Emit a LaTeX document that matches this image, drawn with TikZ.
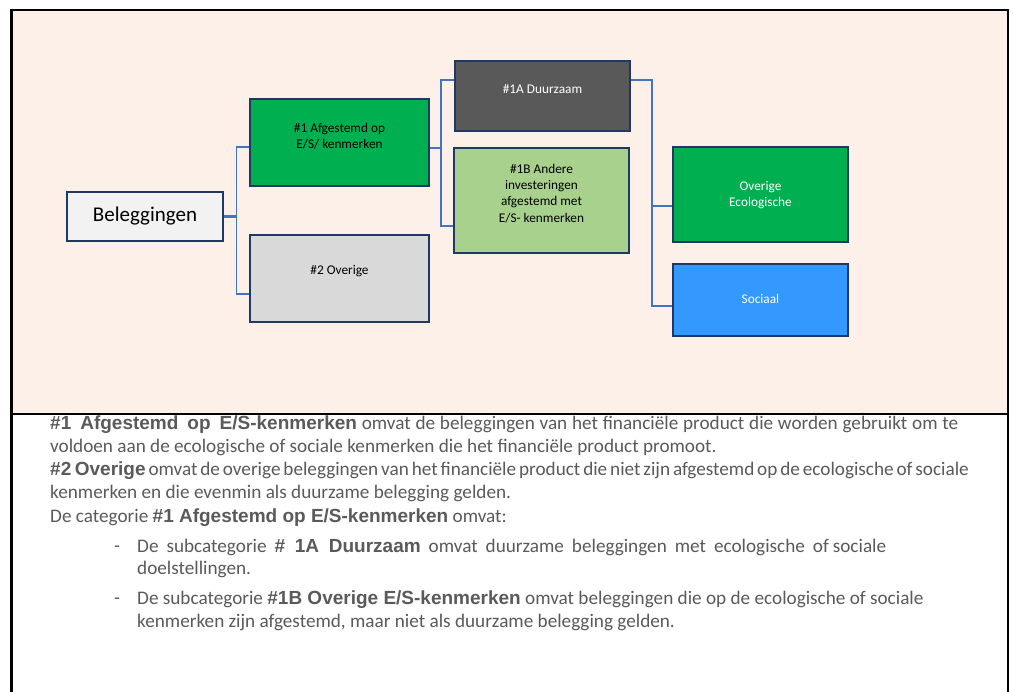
\documentclass[tikz,border=0pt]{standalone}
\usepackage{fontspec}
\setmainfont{Carlito}
\newfontfamily\arialfam{Liberation Sans}
\usetikzlibrary{calc}
\definecolor{pinkbg}{HTML}{FDF0E9}
\definecolor{cnavy}{HTML}{1F3864}
\definecolor{cgreen}{HTML}{00B050}
\definecolor{cdark}{HTML}{595959}
\definecolor{clgreen}{HTML}{A9D18E}
\definecolor{cgrey}{HTML}{D9D9D9}
\definecolor{cwhite}{HTML}{F2F2F2}
\definecolor{cblue}{HTML}{3399FF}
\definecolor{cconn}{HTML}{4472C4}
\definecolor{ctext}{HTML}{5A5A5A}
\newcommand\boldar[1]{{\arialfam\bfseries\fontsize{19}{23}\selectfont #1}}
\begin{document}
\begin{tikzpicture}[x=1pt,y=-1pt,
  box/.style={draw=cnavy, line width=2.2pt, inner sep=0pt, rectangle},
  boxtxt/.style={align=center, inner sep=0pt, font=\fontsize{13.3}{16.3}\selectfont},
  conn/.style={draw=cconn, line width=1.2pt},
  connthick/.style={draw=cconn, line width=2.2pt},
  body/.style={anchor=base west, inner sep=0pt, text=ctext, font=\fontsize{19.2}{23}\selectfont},
  dashmark/.style={anchor=base west, inner sep=0pt, text=ctext, font=\arialfam\fontsize{18}{23}\selectfont}]
\useasboundingbox (0,0) rectangle (1013,692);
\fill[white] (0,0) rectangle (1013,692);
\fill[pinkbg] (11.5,10) rectangle (1008,414);
\draw[line width=2.5pt] (11.5,692) -- (11.5,10) -- (1008,10) -- (1008,692);
\draw[line width=2.5pt] (11.5,414) -- (1008,414);

% boxes
\node[box, fill=cwhite, minimum width=156pt, minimum height=49pt] (bel) at (145,216.5) {};
\node[box, fill=cgreen, minimum width=179pt, minimum height=87pt] (a1) at (339.5,142.5) {};
\node[box, fill=cgrey, minimum width=179pt, minimum height=87pt] (o2) at (339.5,278.5) {};
\node[box, fill=cdark, minimum width=175pt, minimum height=70pt] (d1a) at (542.5,96) {};
\node[box, fill=clgreen, minimum width=175pt, minimum height=105pt] (b1b) at (541.5,200.5) {};
\node[box, fill=cgreen, minimum width=175pt, minimum height=95pt] (eco) at (760.5,194.5) {};
\node[box, fill=cblue, minimum width=175pt, minimum height=72pt] (soc) at (760.5,300) {};

% box texts
\node[inner sep=0pt, font=\fontsize{21}{25}\selectfont] (belt) at (bel.center) {Beleggingen};
\node[boxtxt] (a1t) at ($(a1.center)+(0,-6.5)$) {\#1 Afgestemd op\\E/S/ kenmerken};
\node[boxtxt] (o2t) at ($(o2.center)+(0,-7.5)$) {\#2 Overige};
\node[boxtxt, text=white] (d1at) at ($(d1a.center)+(0,-7)$) {\#1A Duurzaam};
\node[boxtxt] (b1bt) at ($(b1b.center)+(0,-7)$) {\#1B Andere\\investeringen\\afgestemd met\\E/S- kenmerken};
\node[boxtxt, text=white] (ecot) at ($(eco.center)+(0,0.5)$) {Overige\\Ecologische};
\node[boxtxt, text=white] (soct) at ($(soc.center)+(0,-1)$) {Sociaal};

% connectors
\coordinate (j1) at (236.5,216.5);
\draw[connthick] (bel.east) -- (j1);
\draw[conn] ($(a1.west)+(0,4.5)$) -| (j1) |- ($(o2.west)+(0,15.5)$);
\coordinate (j2) at (441,148);
\draw[connthick] ($(a1.east)+(0,5.5)$) -- (j2);
\draw[conn] ($(d1a.west)+(0,-16)$) -| (j2) |- ($(b1b.west)+(0,25.5)$);
\coordinate (j3) at (652,80);
\draw[conn] ($(d1a.east)+(0,-16)$) -- (j3) |- ($(eco.west)+(0,11.5)$);
\draw[conn] (j3) |- ($(soc.west)+(0,6)$);

% body text
\node[body] (l1) at (50,429.5) {\makebox[908pt][s]{\boldar{\#1\hspace{9pt}Afgestemd\hspace{9pt}op\hspace{9pt}E/S-kenmerken} omvat de beleggingen van het financiële product die worden gebruikt om te}};
\node[body] (l2) at (50,452.5) {voldoen aan de ecologische of sociale kenmerken die het financiële product promoot.};
\node[body] (l3) at (50,476) {\makebox[918pt][s]{\boldar{\#2 Overige} omvat de overige beleggingen van het financiële product die niet zijn afgestemd op de ecologische of sociale}};
\node[body] (l4) at (50,499) {kenmerken en die evenmin als duurzame belegging gelden.};
\node[body] (l5) at (50,522.5) {De categorie \boldar{\#1 Afgestemd op E/S-kenmerken} omvat:};
\node[dashmark] (d6) at (114,551.5) {-};
\node[body] (l6) at (137,552.5) {\makebox[749pt][s]{De subcategorie \boldar{\# 1A Duurzaam} omvat duurzame beleggingen met ecologische of\hspace{4pt}sociale}};
\node[body] (l7) at (137,575) {doelstellingen.};
\node[dashmark] (d8) at (114,603.5) {-};
\node[body] (l8) at (137,604.5) {De subcategorie \boldar{\#1B Overige E/S-kenmerken} omvat beleggingen die op de ecologische of sociale};
\node[body] (l9) at (137,627) {kenmerken zijn afgestemd, maar niet als duurzame belegging gelden.};
\end{tikzpicture}
\end{document}
